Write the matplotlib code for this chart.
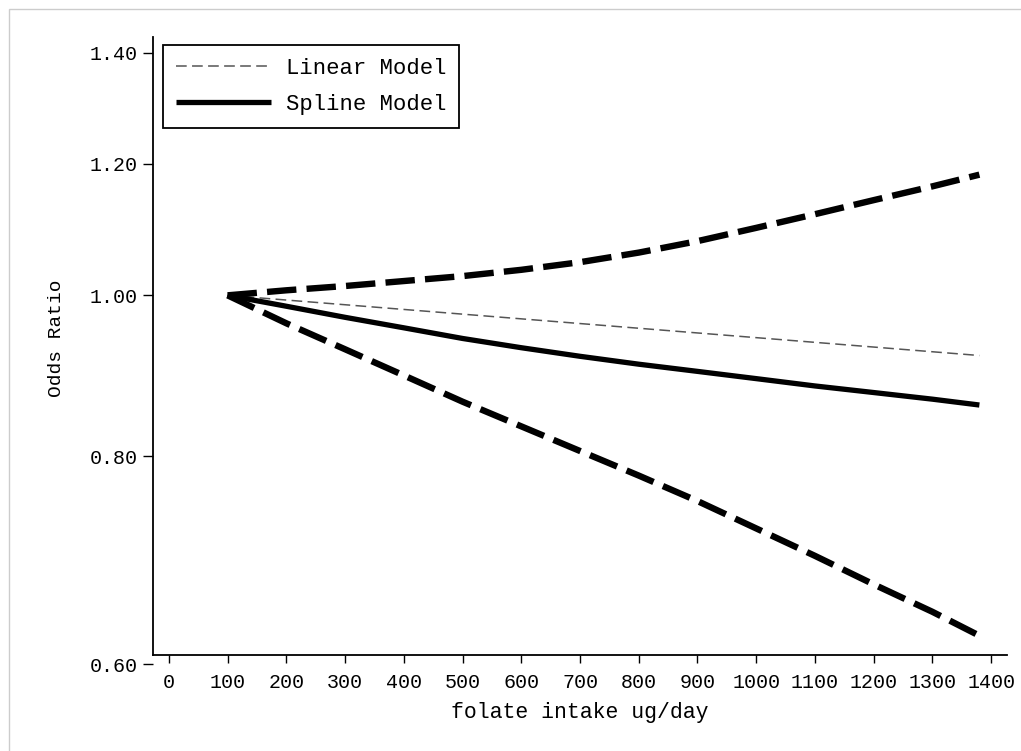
import numpy as np
import matplotlib
matplotlib.use("Agg")
import matplotlib.pyplot as plt
from matplotlib.patches import Rectangle
from matplotlib.ticker import FixedLocator, NullLocator

plt.rcParams['font.family'] = ['Liberation Mono', 'DejaVu Sans Mono']

# folate intake (ug/day) and odds ratios, reference level at 100 ug/day
folate = [100, 200, 300, 400, 500, 600, 700, 800, 900, 1000, 1100, 1200, 1300, 1380]
spline_or = [1.000, 0.985, 0.970, 0.956, 0.942, 0.930, 0.919, 0.909, 0.900,
             0.891, 0.882, 0.874, 0.866, 0.859]
spline_lo = [1.000, 0.962, 0.928, 0.895, 0.863, 0.834, 0.806, 0.779, 0.752,
             0.724, 0.697, 0.670, 0.645, 0.624]
spline_hi = [1.000, 1.007, 1.013, 1.020, 1.027, 1.036, 1.047, 1.061, 1.078,
             1.098, 1.119, 1.141, 1.163, 1.182]
linear_x = [100, 1380]
linear_or = [1.000, 0.920]

yticks = [0.60, 0.80, 1.00, 1.20, 1.40]
xticks = list(range(0, 1401, 100))

W, H = 1021, 751
fig = plt.figure(figsize=(W / 100, H / 100), dpi=100)
ax = fig.add_axes([153 / W, (H - 664) / H, (1007 - 153) / W, (664 - 37) / H])

ax.plot(linear_x, linear_or, color='#555555', lw=1.1, dashes=(7, 3.5),
        label='Linear Model')
ax.plot(folate, spline_or, color='black', lw=3.8, solid_capstyle='butt',
        label='Spline Model')
ax.plot(folate, spline_lo, color='black', lw=4.6, dashes=(4.6, 1.6))
ax.plot(folate, spline_hi, color='black', lw=4.6, dashes=(4.6, 1.6))

ax.set_yscale('log')
ax.set_ylim(0.60, 1.4304)
ax.set_xlim(-27, 1427)
ax.yaxis.set_major_locator(FixedLocator(yticks))
ax.yaxis.set_minor_locator(NullLocator())
ax.set_yticklabels(['%.2f' % v for v in yticks])
ax.set_xticks(xticks)

for side in ('top', 'right'):
    ax.spines[side].set_visible(False)
ax.spines['bottom'].set_position(('data', 0.6075))
ax.spines['left'].set_bounds(0.6075, 1.4304)
for side in ('left', 'bottom'):
    ax.spines[side].set_linewidth(1.3)

ax.tick_params(axis='y', length=7, width=1.0, pad=4, labelsize=14.4)
ax.tick_params(axis='x', length=6, width=1.0, pad=7, labelsize=14.4)

ax.set_xlabel('folate intake ug/day', fontsize=15.5, labelpad=7)
ax.set_ylabel('Odds Ratio', fontsize=14)
ax.yaxis.set_label_coords(-0.103, 0.52)

leg = ax.legend(loc='upper left', bbox_to_anchor=(163 / W, 1 - 45 / H),
                bbox_transform=fig.transFigure, borderaxespad=0,
                fontsize=16, handlelength=4.3, handletextpad=0.65,
                labelspacing=0.69, borderpad=0.57, fancybox=False,
                framealpha=1)
leg.get_frame().set_edgecolor('black')
leg.get_frame().set_linewidth(1.3)

# thin grey frame round the graph region
fig.add_artist(Rectangle((9 / W, -0.1), 1.2, 1 - 9 / H + 0.1,
                         transform=fig.transFigure, fill=False,
                         ec='#cccccc', lw=1))

fig.savefig('out.png', dpi=100)
